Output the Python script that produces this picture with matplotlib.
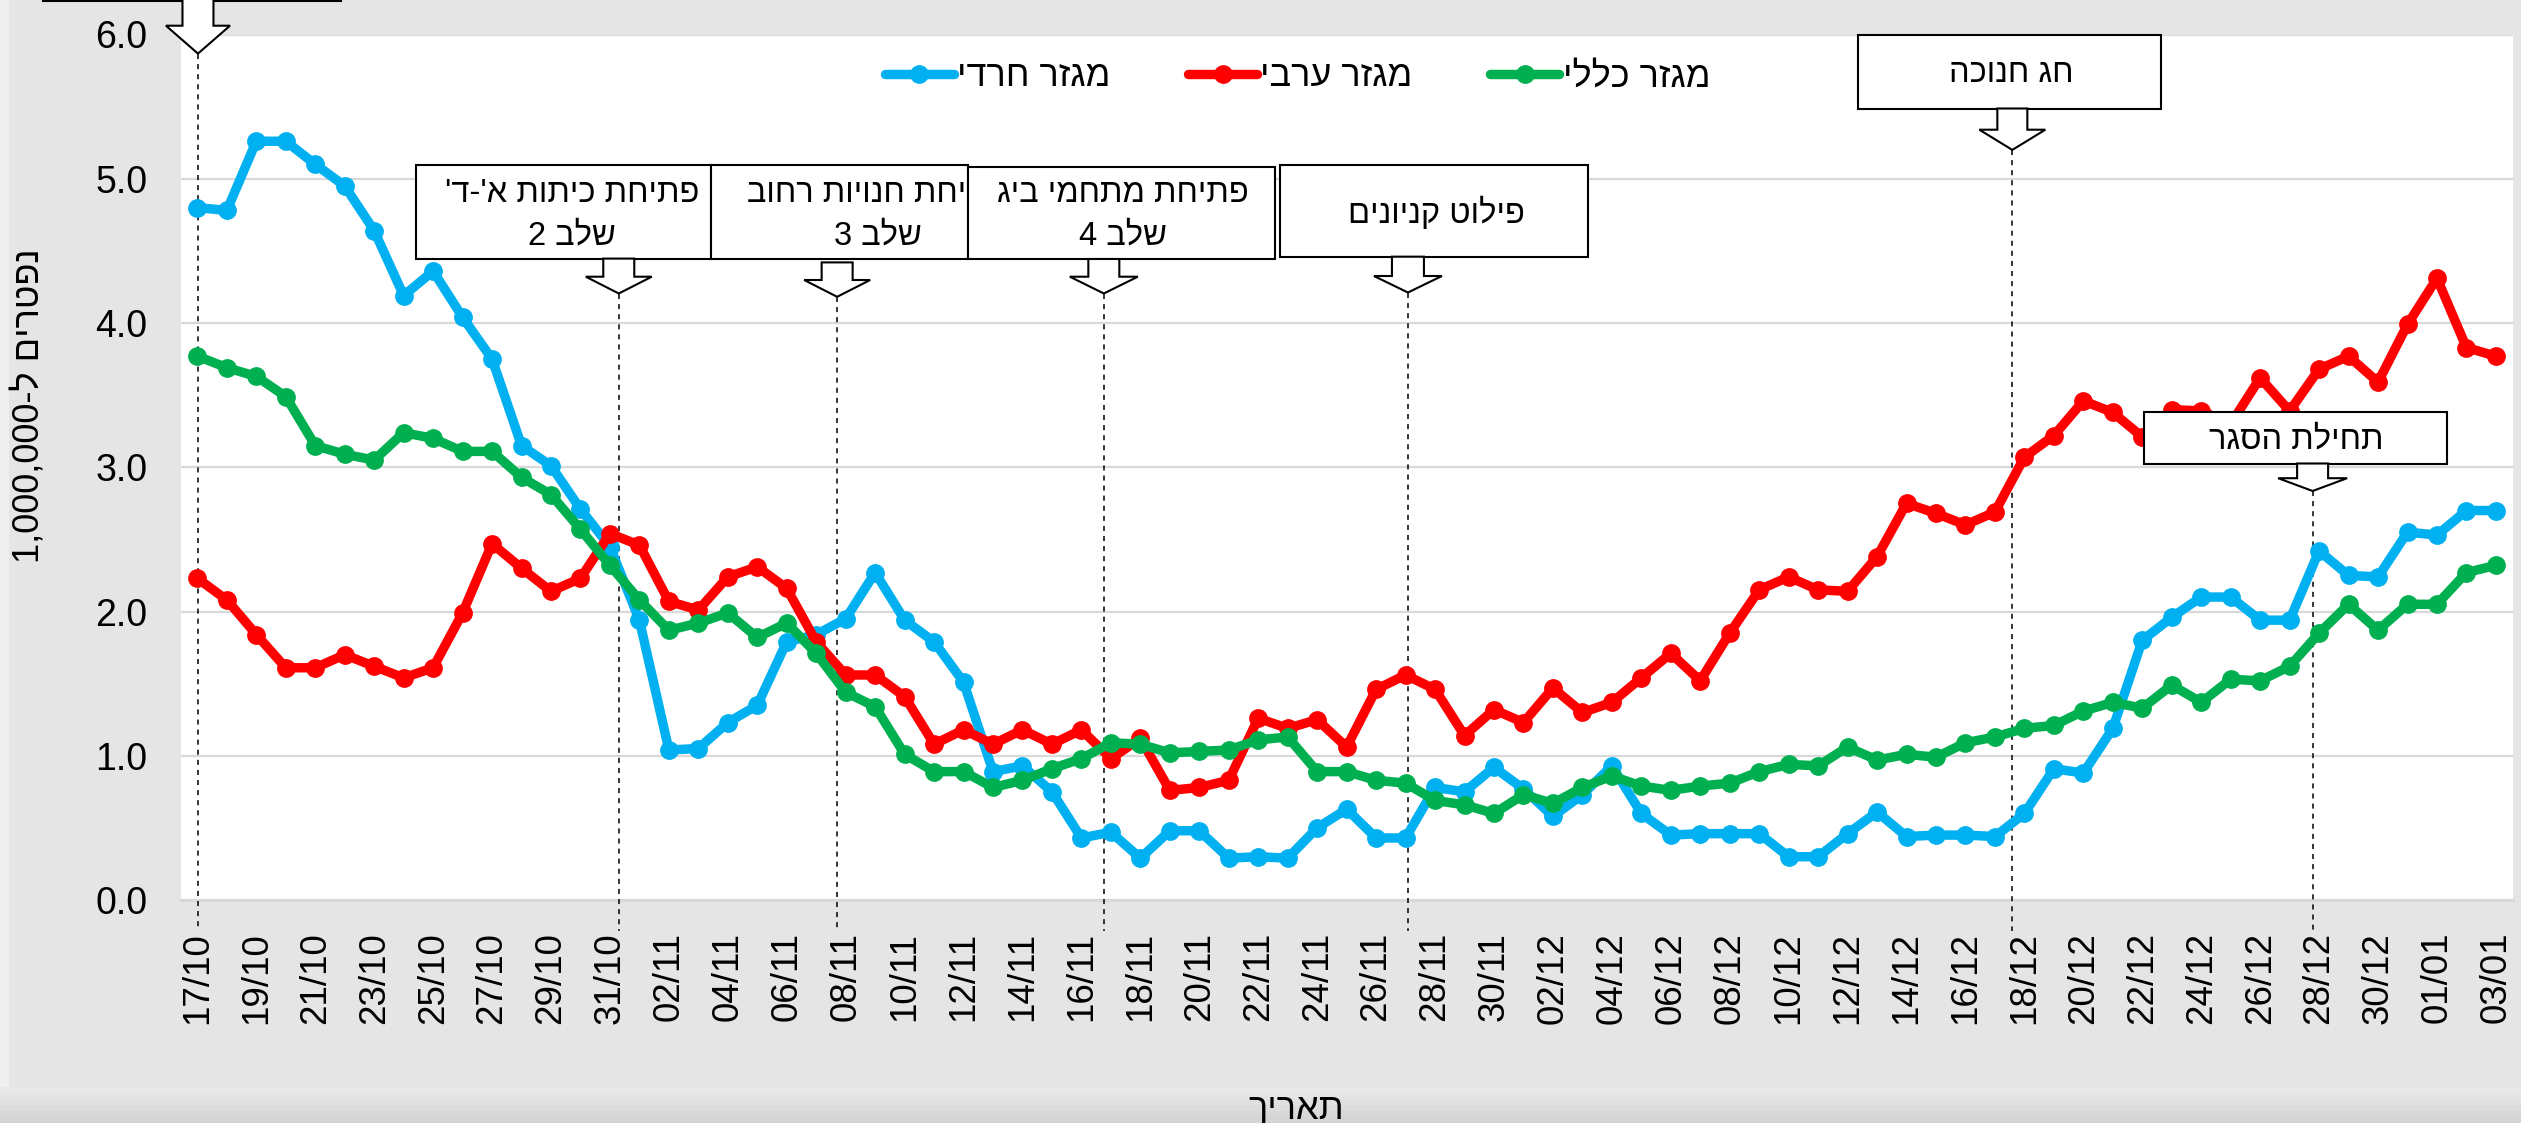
import re
import numpy as np
import pandas as pd
import matplotlib
matplotlib.use("Agg")
import matplotlib.pyplot as plt
import matplotlib.transforms as mtransforms
from matplotlib import font_manager as fm
from matplotlib.patches import Rectangle, Polygon

# ---------------- data ----------------
dates = pd.date_range("2020-10-17", "2021-01-03", freq="D")
haredi = [4.80, 4.78, 5.26, 5.26, 5.10, 4.95, 4.64, 4.19, 4.36, 4.04,
          3.75, 3.15, 3.01, 2.71, 2.45, 1.94, 1.04, 1.05, 1.23, 1.35,
          1.79, 1.84, 1.95, 2.27, 1.94, 1.79, 1.51, 0.89, 0.93, 0.75,
          0.43, 0.47, 0.29, 0.48, 0.48, 0.29, 0.30, 0.29, 0.50, 0.63,
          0.43, 0.43, 0.78, 0.75, 0.92, 0.77, 0.58, 0.73, 0.93, 0.60,
          0.45, 0.46, 0.46, 0.46, 0.30, 0.30, 0.46, 0.61, 0.44, 0.45,
          0.45, 0.44, 0.60, 0.91, 0.88, 1.19, 1.80, 1.96, 2.10, 2.10,
          1.94, 1.94, 2.42, 2.25, 2.24, 2.55, 2.53, 2.70, 2.70]
arab = [2.23, 2.08, 1.84, 1.61, 1.61, 1.70, 1.62, 1.54, 1.61, 1.99,
        2.47, 2.30, 2.14, 2.23, 2.54, 2.46, 2.07, 2.01, 2.24, 2.31,
        2.16, 1.79, 1.56, 1.56, 1.41, 1.08, 1.18, 1.08, 1.18, 1.08,
        1.18, 0.98, 1.12, 0.76, 0.78, 0.83, 1.26, 1.19, 1.25, 1.06,
        1.46, 1.56, 1.46, 1.14, 1.32, 1.23, 1.47, 1.30, 1.37, 1.54,
        1.71, 1.52, 1.85, 2.15, 2.24, 2.15, 2.14, 2.38, 2.75, 2.68,
        2.60, 2.69, 3.07, 3.22, 3.46, 3.38, 3.21, 3.40, 3.39, 3.30,
        3.62, 3.39, 3.68, 3.77, 3.59, 3.99, 4.31, 3.83, 3.77]
general = [3.77, 3.69, 3.63, 3.49, 3.15, 3.09, 3.05, 3.24, 3.20, 3.11,
           3.11, 2.93, 2.81, 2.57, 2.32, 2.08, 1.87, 1.92, 1.99, 1.82,
           1.92, 1.71, 1.44, 1.34, 1.01, 0.89, 0.89, 0.78, 0.83, 0.91,
           0.98, 1.09, 1.08, 1.02, 1.03, 1.04, 1.11, 1.13, 0.89, 0.89,
           0.83, 0.81, 0.69, 0.66, 0.60, 0.73, 0.67, 0.78, 0.86, 0.79,
           0.76, 0.79, 0.81, 0.89, 0.94, 0.93, 1.06, 0.97, 1.01, 0.99,
           1.09, 1.13, 1.19, 1.21, 1.31, 1.37, 1.33, 1.49, 1.37, 1.53,
           1.52, 1.62, 1.85, 2.05, 1.87, 2.05, 2.05, 2.27, 2.32]
series_names = ["מגזר חרדי", "מגזר ערבי", "מגזר כללי"]
tick_labels = ["17/10", "19/10", "21/10", "23/10", "25/10", "27/10", "29/10",
               "31/10", "02/11", "04/11", "06/11", "08/11", "10/11", "12/11",
               "14/11", "16/11", "18/11", "20/11", "22/11", "24/11", "26/11",
               "28/11", "30/11", "02/12", "04/12", "06/12", "08/12", "10/12",
               "12/12", "14/12", "16/12", "18/12", "20/12", "22/12", "24/12",
               "26/12", "28/12", "30/12", "01/01", "03/01"]
y_title = "נפטרים ל-1,000,000"
x_title = "תאריך"

# events: (lines of text, date of the marker)
events = [
    ([""], "2020-10-17"),
    (["פתיחת כיתות א'-ד'", "שלב 2"], "2020-10-31"),
    (["פתיחת חנויות רחוב", "שלב 3"], "2020-11-08"),
    (["פתיחת מתחמי ביג", "שלב 4"], "2020-11-16"),
    (["פילוט קניונים"], "2020-11-27"),
    (["חג חנוכה"], "2020-12-18"),
    (["תחילת הסגר"], "2020-12-28"),
]

# ---------------- layout / style ----------------
W, H, DPI = 2521, 1123, 100
BG = "#e5e5e5"
COLORS = ["#00B0F0", "#FF0000", "#00B050"]

names = {f.name for f in fm.fontManager.ttflist}
if "Liberation Sans Narrow" in names:
    NARROW = dict(family=["Liberation Sans Narrow", "Liberation Sans", "DejaVu Sans"])
else:
    NARROW = dict(family=["Liberation Sans", "DejaVu Sans"])
ARIAL = ["Liberation Sans", "DejaVu Sans"]
plt.rcParams["font.family"] = ARIAL


def vis(s):
    """visual (left-to-right) order for right-to-left text"""
    runs = re.findall(r"[0-9][0-9,.]*|[^0-9]+", s)
    return "".join(r if r[0].isdigit() else r[::-1] for r in reversed(runs))


def fx(px):
    return px / W


def fy(py):
    return 1 - py / H


fig = plt.figure(figsize=(W / DPI, H / DPI), dpi=DPI, facecolor=BG)

# subtle frame shading like the original
fig.add_artist(Rectangle((0, 0), fx(9), 1, transform=fig.transFigure,
                         fc="#efefef", ec="none", zorder=-5))
shades = ["#e8e8e8", "#e4e4e4", "#e0e0e0", "#dcdcdc", "#d8d8d8", "#d4d4d4"]
for i, c in enumerate(shades):
    fig.add_artist(Rectangle((0, 0), 1, (36 - 6 * i) / H,
                             transform=fig.transFigure, fc=c, ec="none",
                             zorder=-4 + 0.1 * i))

ax = fig.add_axes([fx(181), fy(900), fx(2513 - 181), (900 - 34.5) / H])
ax.set_facecolor("white")

x = np.arange(len(dates))
lines = []
for vals, col in zip([haredi, arab, general], COLORS):
    ln, = ax.plot(x, vals, color=col, lw=6.8, marker="o", ms=12.5,
                  solid_joinstyle="round", solid_capstyle="round", zorder=5)
    lines.append(ln)

ax.set_xlim(-0.556, 78.58)
ax.set_ylim(0, 6)
tick_pos = [list(dates.strftime("%d/%m")).index(t) for t in tick_labels]
ax.set_xticks(tick_pos)
ax.set_xticklabels(tick_labels, rotation=90, fontsize=26.5, family=ARIAL)
yt = np.arange(0, 7, 1)
ax.set_yticks(yt)
ax.set_yticklabels([f"{v:.1f}" for v in yt], fontsize=27, **NARROW)
ax.tick_params(axis="x", length=0, pad=23)
ax.tick_params(axis="y", length=0, pad=24)
ax.grid(axis="y", color="#d9d9d9", lw=1.6, zorder=0)
ax.set_axisbelow(True)
for s in ["left", "right", "top"]:
    ax.spines[s].set_visible(False)
ax.spines["bottom"].set_color("#d9d9d9")
ax.spines["bottom"].set_linewidth(2.2)

# axis titles
fig.text(fx(30), fy(406), vis(y_title), rotation=90, ha="center", va="center",
         fontsize=26, family=ARIAL)
fig.text(fx(1296), fy(1092), vis(x_title), ha="center", va="top",
         fontsize=26, family=ARIAL)

# legend
ax.legend(lines, [vis(n) for n in series_names], loc="center left",
          bbox_to_anchor=(fx(885), fy(77)), bbox_transform=fig.transFigure,
          ncol=3, frameon=False, borderpad=0, borderaxespad=0,
          handlelength=1.9, handletextpad=0.1, columnspacing=2.15,
          prop=fm.FontProperties(size=26, **NARROW)).set_zorder(20)

# ---------------- event call-outs ----------------
# box geometry in pixels (x0, x1, y0, y1), text centre
boxes = [
    (43, 341, -80, 0.5, None),
    (415.5, 710.6, 165.3, 258.6, (572, 214.5)),
    (710.6, 967.7, 165.3, 258.6, (878, 214.5)),
    (967.7, 1274.7, 166.7, 259.0, (1123, 214.5)),
    (1279.5, 1587.5, 165.3, 256.7, (1436, 213)),
    (1858, 2161, 34.5, 108.5, (2011.5, 74)),
    (2144, 2446.5, 412, 463.5, (2296.6, 440)),
]
# arrow: x offset (days) from event date, shaft top, head base, tip, shaft half w, head half w
arrows = [
    (0.02, -5, 25.7, 53.6, 15.5, 32),
    (0.30, 258.6, 276.7, 293.5, 15.5, 33),
    (-0.29, 262.4, 280.0, 296.8, 15.5, 33),
    (0.76, 259.0, 276.7, 293.5, 15.5, 34),
    (0.08, 256.7, 276.0, 292.5, 16, 34),
    (-0.41, 108.5, 129.7, 149.9, 15, 33),
    (-0.22, 463.5, 478.2, 491.0, 15.5, 34.5),
]
trans = mtransforms.blended_transform_factory(ax.transData, fig.transFigure)
date_idx = {d.strftime("%Y-%m-%d"): i for i, d in enumerate(dates)}

for k, ((txt, d), (x0, x1, y0, y1, tc), (dx, st, hb, tip, sw, hw)) in enumerate(
        zip(events, boxes, arrows)):
    z = 10 + 3 * k
    xe = date_idx[d] + dx
    # dashed guide from the arrow tip down past the axis
    ax.plot([xe, xe], [fy(tip), fy(931)], transform=trans, color="black",
            lw=1.1, ls=(0, (3.3, 3.3)), clip_on=False, zorder=3)
    # box
    fig.add_artist(Rectangle((fx(x0), fy(y1)), fx(x1 - x0), (y1 - y0) / H,
                             transform=fig.transFigure, fc="white",
                             ec="black", lw=1.5, zorder=z))
    if tc is not None:
        n = len(txt)
        gap = 43
        for j, t in enumerate(txt):
            yy = tc[1] + (j - (n - 1) / 2) * gap
            fig.text(fx(tc[0]), fy(yy), vis(t), ha="center", va="center",
                     fontsize=23.5, family=ARIAL, zorder=z + 1)
    # hollow block arrow
    xc = ax.transData.transform((xe, 0))[0]
    pts = [(xc - sw, st), (xc - sw, hb), (xc - hw, hb), (xc, tip),
           (xc + hw, hb), (xc + sw, hb), (xc + sw, st)]
    fig.add_artist(Polygon([(fx(a), fy(b)) for a, b in pts], closed=True,
                           transform=fig.transFigure, fc="white", ec="black",
                           lw=1.5, joinstyle="miter", zorder=z + 2))

fig.savefig("out.png", dpi=DPI, facecolor=BG)
